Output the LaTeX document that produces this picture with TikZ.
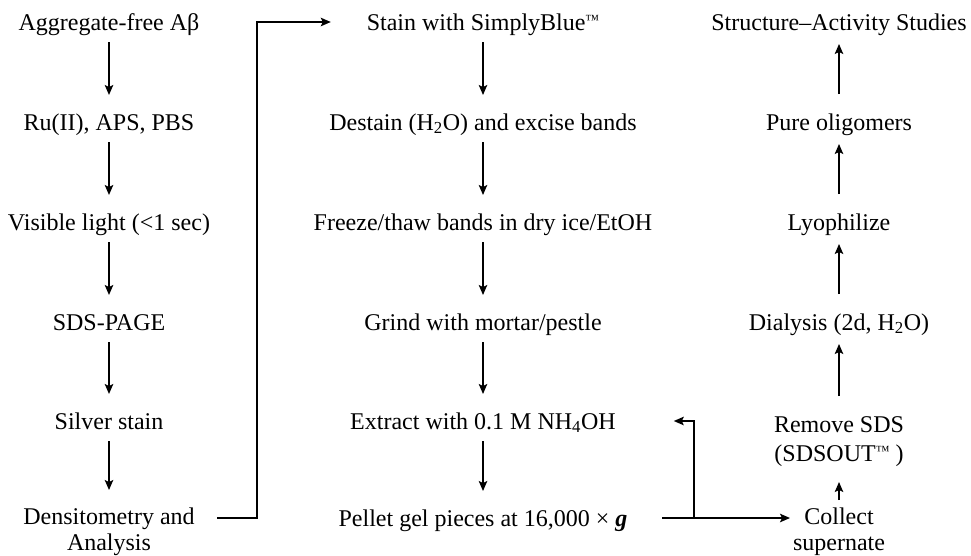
\documentclass[tikz,border=0pt]{standalone}
\usepackage{fontspec}
\setmainfont{Liberation Serif}
\usetikzlibrary{arrows.meta}
\newcommand{\tmk}{\raisebox{6pt}{\fontsize{14}{14}\selectfont ™}}
\begin{document}
\begin{tikzpicture}[x=1pt,y=-1pt,
  every node/.style={font=\fontsize{24}{26.5}\selectfont, inner sep=0pt, outer sep=0pt},
  stepnode/.style={text height=20pt, text depth=4pt, anchor=center},
  multinode/.style={align=center, anchor=north},
  botnode/.style={multinode, font=\fontsize{24}{25.5}\selectfont},
  conn/.style={line width=1.6pt, draw=black},
  arr/.style={conn, -{Stealth[length=10pt,width=8.5pt,inset=2pt]}},
  down/.style={arr, shorten <=8pt, shorten >=15pt},
  up/.style={arr, shorten <=16pt, shorten >=10pt}]
\useasboundingbox (0,0) rectangle (971,555);
% left column
\node[stepnode] (a1) at (109,22) {Aggregate-free Aβ};
\node[stepnode] (a2) at (109,122) {Ru(II), APS, PBS};
\node[stepnode] (a3) at (109,222) {Visible light (<1 sec)};
\node[stepnode] (a4) at (109,322) {SDS-PAGE};
\node[stepnode] (a5) at (109,421) {Silver stain};
\node[botnode] (a6) at (109,508) {Densitometry and\\Analysis};
% middle column
\node[stepnode] (b1) at (483,22) {Stain with SimplyBlue\tmk};
\node[stepnode] (b2) at (483,122) {Destain (H\textsubscript{2}O) and excise bands};
\node[stepnode] (b3) at (483,222) {Freeze/thaw bands in dry ice/EtOH};
\node[stepnode] (b4) at (483,322) {Grind with mortar/pestle};
\node[stepnode] (b5) at (483,421) {Extract with 0.1 M NH\textsubscript{4}OH};
\node[stepnode] (b6) at (483,518) {Pellet gel pieces at 16,000 × \textbf{\textit{g}}};
% right column
\node[stepnode] (c1) at (839,22) {Structure–Activity Studies};
\node[stepnode] (c2) at (839,122) {Pure oligomers};
\node[stepnode] (c3) at (839,222) {Lyophilize};
\node[stepnode] (c4) at (839,322) {Dialysis (2d, H\textsubscript{2}O)};
\node[multinode, font=\fontsize{24}{29}\selectfont] (c5) at (839,417) {Remove SDS\\(SDSOUT\tmk\ )};
\node[botnode] (c6) at (839,508) {Collect\\supernate};
% left arrows
\draw[down] (a1) -- (a2);
\draw[down] (a2) -- (a3);
\draw[down] (a3) -- (a4);
\draw[down] (a4) -- (a5);
\draw[down, shorten >=18pt] (a5) -- (a6);
% middle arrows
\draw[down] (b1) -- (b2);
\draw[down] (b2) -- (b3);
\draw[down] (b3) -- (b4);
\draw[down] (b4) -- (b5);
\draw[down] (b5) -- (b6);
% right arrows
\draw[up] (c2) -- (c1);
\draw[up] (c3) -- (c2);
\draw[up] (c4) -- (c3);
\draw[up, shorten <=21pt] (c5) -- (c4);
\draw[up, shorten <=8pt, shorten >=15pt] (c6) -- (c5);
% bracket from densitometry to stain
\coordinate (d0) at (217,518);
\coordinate (d1) at (257,518);
\draw[arr, shorten >=36pt] (d0) -- (d1) |- (b1.west);
% pellet to collect, branch to extract
\draw[arr, shorten <=35pt, shorten >=3pt] (b6.east) -- (b6.east -| c6.west);
\coordinate (e1) at (694,518);
\draw[arr, shorten >=58pt] (e1) |- (b5.east);
\end{tikzpicture}
\end{document}
